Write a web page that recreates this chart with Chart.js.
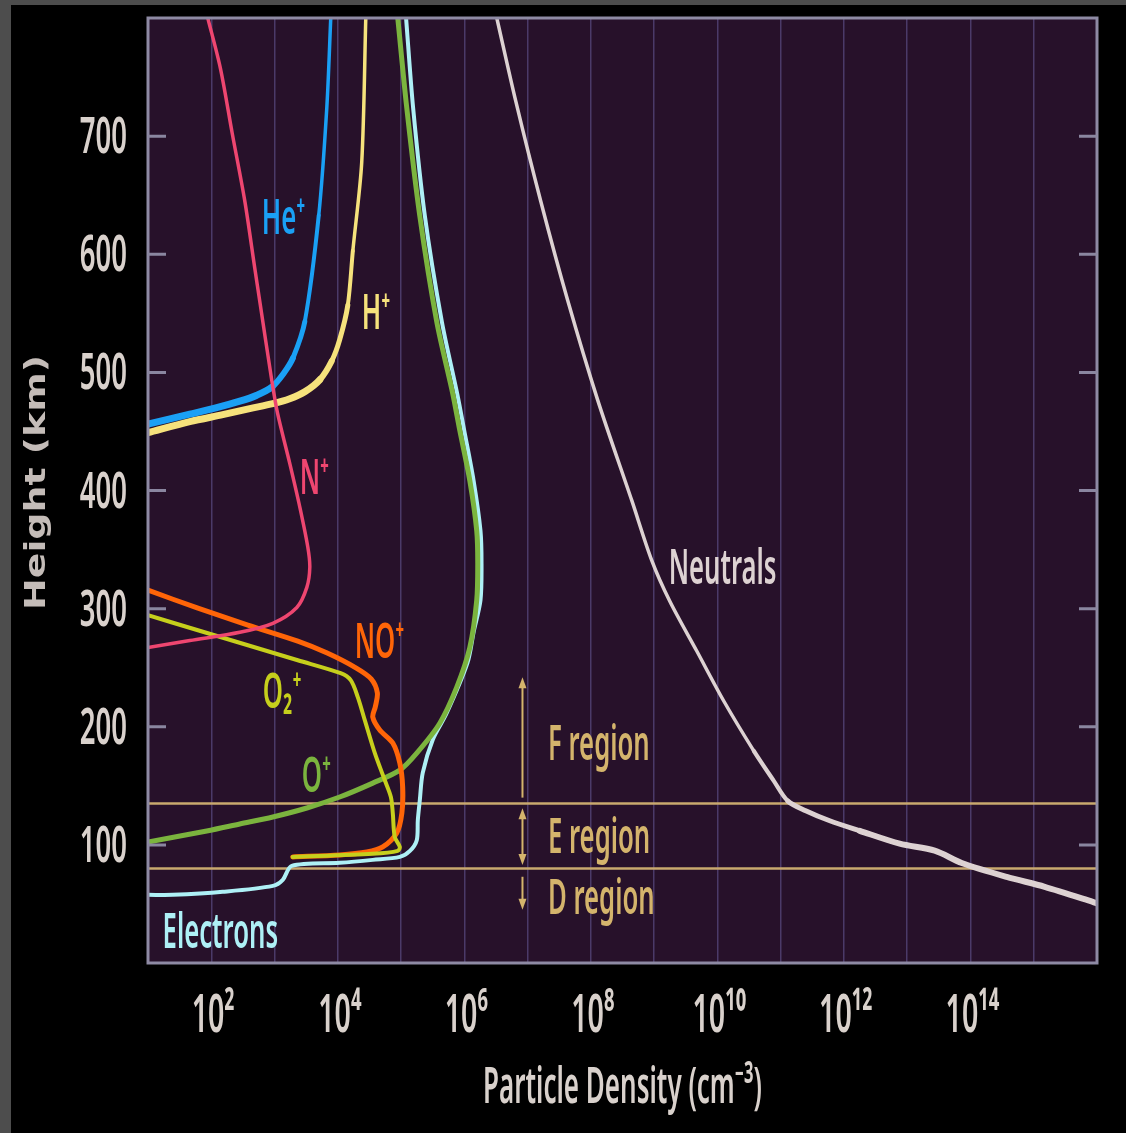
<!DOCTYPE html>
<html>
<head>
<meta charset="utf-8">
<script src="https://cdn.jsdelivr.net/npm/chart.js@4"></script>
<style>
  html, body { margin: 0; padding: 0; background: #000; overflow: hidden; }
  canvas { display: block; }
</style>
</head>
<body>
<canvas id="chart" width="1126" height="1133"></canvas>
<script>
// Ionospheric composition: particle density (cm^-3) against height (km)

const neutralsDensity = [3.26e6, 6.50e6, 1.61e7, 4.32e7, 1.29e8, 4.43e8, 9.16e8, 1.77e9, 4.72e9, 1.26e10, 3.76e10, 7.78e10, 1.29e11, 2.49e11, 5.97e11, 1.78e12, 7.62e12, 2.72e13, 7.28e13, 3.74e14, 1.49e15, 8.57e15, 1e16];
const neutralsHeight  = [800, 729.6, 645.1, 560.6, 476.1, 391.6, 340.9, 306.3, 264.1, 221.8, 179.6, 154.2, 137.3, 128.9, 120.4, 111.9, 101.0, 95.1, 84.7, 72.9, 64.5, 51.8, 50.5];

const electronsDensity = [10, 24.7, 152, 940, 1350, 1870, 1.07e4, 3.57e4, 9.55e4, 1.38e5, 1.77e5, 1.84e5, 1.98e5, 2.20e5, 3.17e5, 5.27e5, 1.12e6, 1.40e6, 1.80e6, 1.87e6, 1.80e6, 1.40e6, 9.95e5, 7.71e5, 4.41e5, 2.37e5, 1.55e5, 1.20e5];
const electronsHeight  = [57.7, 57.7, 60.3, 65.3, 70.4, 82.2, 84.8, 87.3, 89.8, 94.9, 104, 121, 138, 161, 189, 211.6, 254, 280, 307, 338, 366, 408.5, 451, 482, 543, 633, 724, 800];

const oPlusDensity = [10, 84.9, 282, 940, 3240, 1.07e4, 3.57e4, 9.55e4, 1.77e5, 4.09e5, 7.59e5, 1.22e6, 1.57e6, 1.63e6, 1.57e6, 1.22e6, 8.47e5, 6.56e5, 3.66e5, 1.97e5, 1.23e5, 8.87e4];
const oPlusHeight  = [102.5, 111.8, 117.7, 123.6, 131.2, 140.5, 152.3, 163.3, 177.7, 203, 233.5, 267, 307, 338, 366, 408.5, 451, 482, 543, 633, 724, 800];

const noPlusDensity = [10, 61.5, 379, 2330, 6800, 1.96e4, 3.39e4, 4.22e4, 3.91e4, 3.57e4, 4.61e4, 7.40e4, 9.55e4, 1.06e5, 1.03e5, 8.55e4, 5.14e4, 2.87e4, 1.07e4, 1940];
const noPlusHeight  = [315.6, 300.4, 286.1, 272.5, 262.4, 249.7, 240.4, 228.6, 216.7, 208.2, 197.2, 186.2, 169.3, 149, 127, 110.1, 98.3, 94, 91.5, 89.8];

const o2PlusDensity = [10, 61.5, 379, 2330, 1.11e4, 1.60e4, 2.07e4, 2.67e4, 3.85e4, 5.52e4, 6.90e4, 7.40e4, 7.94e4, 9.55e4, 8.87e4, 3.57e4, 1940];
const o2PlusHeight  = [294.4, 281.7, 269, 256.3, 245.3, 239.4, 225.1, 205.6, 177.7, 154.9, 140.6, 127, 106.8, 98.3, 94.9, 92.4, 89.8];

const nPlusDensity = [88.1, 140, 215, 339, 488, 585, 906, 1120, 1740, 2510, 3360, 3610, 3240, 2250, 940, 282, 45.8, 10];
const nPlusHeight  = [800, 757, 702, 645, 588, 560, 493, 465, 423, 386, 352, 335, 318, 301, 287.6, 280, 273, 267];

const hPlusDensity = [2.77e4, 2.39e4, 1.73e4, 1.44e4, 1.07e4, 8.04e3, 5.20e3, 3.01e3, 1.74e3, 940, 406, 152, 45.8, 10];
const hPlusHeight  = [800, 678, 603, 557, 527.6, 509.8, 493.8, 483.6, 477.7, 473.5, 469.3, 464.2, 458.3, 449];

const hePlusDensity = [7.74e3, 6.70e3, 5.00e3, 3.01e3, 1.95e3, 1.40e3, 906, 525, 283, 114, 45.8, 10];
const hePlusHeight  = [800, 724, 633, 543, 512, 499.3, 487.5, 480.7, 475.6, 469.7, 464.6, 456.2];

// Boundaries between the D, E and F regions (km)
const regionBoundaries = [80, 135];

// Axis tick values and labels
const xTickValues = [1e2, 1e4, 1e6, 1e8, 1e10, 1e12, 1e14];
const xTickLabels = ['10²', '10⁴', '10⁶', '10⁸', '10¹⁰', '10¹²', '10¹⁴'];
const xGridValues = [1e2, 1e3, 1e4, 1e5, 1e6, 1e7, 1e8, 1e9, 1e10, 1e11, 1e12, 1e13, 1e14, 1e15];
const yTickValues = [100, 200, 300, 400, 500, 600, 700];
const yTickLabels = ['100', '200', '300', '400', '500', '600', '700'];

const toPoints = (xs, ys) => xs.map((x, i) => ({ x, y: ys[i] }));

const FONT = '"Noto Sans", "Open Sans", "DejaVu Sans", sans-serif';
const CONDENSE = 0.55;

// Draw text squeezed horizontally, the way a condensed face would set it
function condensedText(ctx, text, x, y, size, color, align, sx) {
  ctx.save();
  ctx.font = `600 ${size}px ${FONT}`;
  ctx.fillStyle = color;
  ctx.textBaseline = 'alphabetic';
  ctx.textAlign = 'left';
  const s = sx || CONDENSE;
  const w = ctx.measureText(text).width * s;
  let x0 = x;
  if (align === 'center') x0 = x - w / 2;
  else if (align === 'right') x0 = x - w;
  ctx.translate(x0, y);
  ctx.scale(s, 1);
  ctx.fillText(text, 0, 0);
  ctx.restore();
}

// Curve labels, anchored in data space (left edge, baseline)
const curveLabels = [
  { text: 'He⁺', color: '#1aa0f5', x: 630, y: 617 },
  { text: 'H⁺', color: '#f6e27c', x: 2.4e4, y: 537 },
  { text: 'N⁺', color: '#ee4670', x: 2.5e3, y: 397 },
  { text: 'NO⁺', color: '#ff6508', x: 1.85e4, y: 258 },
  { text: 'O₂⁺', color: '#c6cf1c', x: 650, y: 216 },
  { text: 'O⁺', color: '#7bb43e', x: 2.7e3, y: 145 },
  { text: 'Electrons', color: '#aef0f6', x: 17, y: 13 },
  { text: 'Neutrals', color: '#ddd2d2', x: 1.7e9, y: 321 }
];

const regionLabels = [
  { text: 'F region', x: 2.1e7, y: 171.8 },
  { text: 'E region', x: 2.1e7, y: 93.4 },
  { text: 'D region', x: 2.1e7, y: 41.1 }
];

// Extent arrows for the three regions (km), with which ends carry a head
const regionArrows = [
  { from: 140, to: 242, headTop: true, headBottom: false },
  { from: 83, to: 131, headTop: true, headBottom: true },
  { from: 45, to: 73, headTop: false, headBottom: true }
];
const arrowDensity = 8.3e6;

const GOLD = '#d4b46c';
const TEXT = '#d9d1cc';
const LABEL_CONDENSE = 0.535;

const decorations = {
  id: 'decorations',
  beforeDraw(chart) {
    const { ctx, chartArea: a, width, height } = chart;
    ctx.save();
    ctx.fillStyle = '#4d4d4d';
    ctx.fillRect(0, 0, width, height);
    ctx.fillStyle = '#000';
    ctx.fillRect(11, 5, width - 11, height - 5);
    ctx.fillStyle = '#27112a';
    ctx.fillRect(a.left, a.top, a.right - a.left, a.bottom - a.top);
    ctx.restore();
  },
  beforeDatasetsDraw(chart) {
    const { ctx, chartArea: a, scales: { y } } = chart;
    ctx.save();
    ctx.strokeStyle = '#c9a96e';
    ctx.lineWidth = 2.5;
    regionBoundaries.forEach(h => {
      const py = y.getPixelForValue(h);
      ctx.beginPath();
      ctx.moveTo(a.left, py);
      ctx.lineTo(a.right, py);
      ctx.stroke();
    });
    ctx.restore();
  },
  afterDatasetsDraw(chart) {
    const { ctx, chartArea: a, scales: { x, y } } = chart;

    // frame
    ctx.save();
    ctx.strokeStyle = '#8e8aa4';
    ctx.lineWidth = 3;
    ctx.strokeRect(a.left, a.top, a.right - a.left, a.bottom - a.top);

    // inward tick marks on both sides of the height axis
    ctx.strokeStyle = '#8a86a0';
    ctx.lineWidth = 3;
    yTickValues.forEach(v => {
      const py = y.getPixelForValue(v);
      ctx.beginPath();
      ctx.moveTo(a.left, py); ctx.lineTo(a.left + 18, py);
      ctx.moveTo(a.right - 18, py); ctx.lineTo(a.right, py);
      ctx.stroke();
    });

    // region extent arrows
    const ax = x.getPixelForValue(arrowDensity);
    ctx.strokeStyle = GOLD;
    ctx.fillStyle = GOLD;
    ctx.lineWidth = 2;
    regionArrows.forEach(r => {
      const yTop = y.getPixelForValue(r.to);
      const yBot = y.getPixelForValue(r.from);
      ctx.beginPath();
      ctx.moveTo(ax, yTop + (r.headTop ? 6 : 0));
      ctx.lineTo(ax, yBot - (r.headBottom ? 6 : 0));
      ctx.stroke();
      if (r.headTop) {
        ctx.beginPath();
        ctx.moveTo(ax, yTop); ctx.lineTo(ax - 4, yTop + 11); ctx.lineTo(ax + 4, yTop + 11);
        ctx.closePath(); ctx.fill();
      }
      if (r.headBottom) {
        ctx.beginPath();
        ctx.moveTo(ax, yBot); ctx.lineTo(ax - 4, yBot - 11); ctx.lineTo(ax + 4, yBot - 11);
        ctx.closePath(); ctx.fill();
      }
    });
    ctx.restore();

    // curve and region labels
    curveLabels.forEach(l => {
      condensedText(ctx, l.text, x.getPixelForValue(l.x), y.getPixelForValue(l.y), 48, l.color, 'left', LABEL_CONDENSE);
    });
    regionLabels.forEach(l => {
      condensedText(ctx, l.text, x.getPixelForValue(l.x), y.getPixelForValue(l.y), 48, GOLD, 'left', LABEL_CONDENSE);
    });
  },
  afterDraw(chart) {
    const { ctx, chartArea: a, scales: { x, y } } = chart;

    // height tick labels
    yTickValues.forEach((v, i) => {
      const py = y.getPixelForValue(v);
      condensedText(ctx, yTickLabels[i], a.left - 21, py + 17, 50, TEXT, 'right');
    });
    // density tick labels
    xTickValues.forEach((v, i) => {
      const px = x.getPixelForValue(v);
      condensedText(ctx, xTickLabels[i], px + 2, a.bottom + 69, 52, TEXT, 'center');
    });
    // axis titles
    condensedText(ctx, 'Particle Density (cm⁻³)', (a.left + a.right) / 2, a.bottom + 140, 50, TEXT, 'center', 0.52);

    ctx.save();
    ctx.translate(38, (a.top + a.bottom) / 2 - 8);
    ctx.rotate(-Math.PI / 2);
    ctx.font = 'bold 28px "DejaVu Sans", sans-serif';
    const w = ctx.measureText('Height (km)').width;
    const s = 255 / w;
    ctx.scale(s, 1);
    ctx.fillStyle = '#c4bcb8';
    ctx.textAlign = 'center';
    ctx.textBaseline = 'middle';
    ctx.fillText('Height (km)', 0, 0);
    ctx.restore();
  }
};

const lineStyle = (color, width) => ({
  borderColor: color,
  borderWidth: width,
  pointRadius: 0,
  tension: 0.3,
  fill: false,
  clip: 0,
  borderCapStyle: 'round',
  borderJoinStyle: 'round'
});

// Light-ion profiles thicken gradually as they bend over near 450-500 km
const taperLow = c => {
  const h = c.p1.parsed.y;
  return h > 600 ? 3.5 : h > 530 ? 4 : h > 505 ? 5 : h > 485 ? 6 : 7;
};
const taperNeutrals = c => {
  const h = c.p1.parsed.y;
  return h > 160 ? 3.5 : h > 130 ? 4.2 : h > 110 ? 5 : 6;
};

new Chart(document.getElementById('chart'), {
  type: 'line',
  data: {
    datasets: [
      { label: 'N⁺', data: toPoints(nPlusDensity, nPlusHeight), ...lineStyle('#ee4670', 3.5) },
      { label: 'He⁺', data: toPoints(hePlusDensity, hePlusHeight), ...lineStyle('#1aa0f5', 4),
        segment: { borderWidth: taperLow } },
      { label: 'H⁺', data: toPoints(hPlusDensity, hPlusHeight), ...lineStyle('#f6e27c', 4),
        segment: { borderWidth: taperLow } },
      { label: 'O₂⁺', data: toPoints(o2PlusDensity, o2PlusHeight), ...lineStyle('#c6cf1c', 4) },
      { label: 'NO⁺', data: toPoints(noPlusDensity, noPlusHeight), ...lineStyle('#ff6508', 5) },
      { label: 'O⁺', data: toPoints(oPlusDensity, oPlusHeight), ...lineStyle('#7bb43e', 5) },
      { label: 'Electrons', data: toPoints(electronsDensity, electronsHeight), ...lineStyle('#aef0f6', 4) },
      { label: 'Neutrals', data: toPoints(neutralsDensity, neutralsHeight), ...lineStyle('#ddd2d2', 3.5),
        segment: { borderWidth: taperNeutrals } }
    ]
  },
  options: {
    responsive: false,
    animation: false,
    events: [],
    layout: { autoPadding: false, padding: { left: 148, top: 18, right: 29, bottom: 170 } },
    plugins: { legend: { display: false }, tooltip: { enabled: false } },
    scales: {
      x: {
        type: 'logarithmic',
        min: 10,
        max: 1e16,
        afterBuildTicks: scale => { scale.ticks = xGridValues.map(v => ({ value: v })); },
        ticks: { display: false },
        grid: { color: '#4b3a68', lineWidth: 1.5, drawTicks: false },
        border: { display: false }
      },
      y: {
        type: 'linear',
        min: 0,
        max: 800,
        ticks: { display: false, stepSize: 100 },
        grid: { display: false, drawTicks: false },
        border: { display: false }
      }
    }
  },
  plugins: [decorations]
});
</script>
</body>
</html>
